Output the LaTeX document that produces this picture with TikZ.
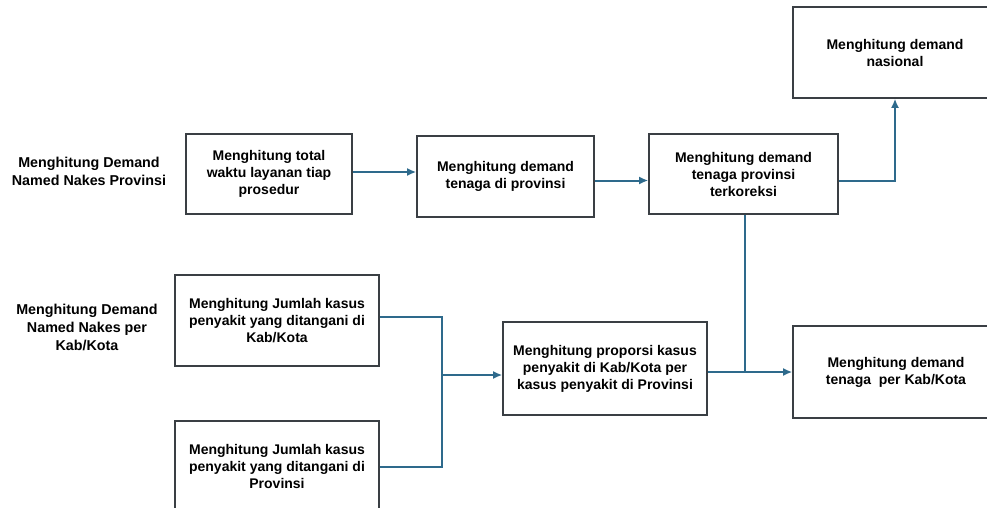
\documentclass[tikz,border=0pt]{standalone}
\usepackage{fontspec}
\setmainfont{Liberation Sans}
\usetikzlibrary{arrows.meta}
\definecolor{boxline}{HTML}{3A3F44}
\definecolor{conn}{HTML}{2E6A8C}
\begin{document}
\begin{tikzpicture}[x=1pt,y=-1pt,
  box/.style={draw=boxline,line width=1.6pt,fill=white,rectangle,align=center,
    inner sep=0pt,font=\fontsize{14}{17}\selectfont\bfseries},
  lbl/.style={align=center,inner sep=0pt,font=\fontsize{14.3}{18}\selectfont\bfseries},
  conline/.style={draw=conn,line width=2pt},
  arr/.style={conline,-{Latex[length=9pt,width=8pt]}}]
\useasboundingbox (0,0) rectangle (987,508);
\clip (0,0) rectangle (987,508);
\fill[white] (0,0) rectangle (987,508);
\node[box,minimum width=166pt,minimum height=80pt] (A) at (269,174) {Menghitung total\\waktu layanan tiap\\prosedur};
\node[box,minimum width=177pt,minimum height=81pt] (B) at (505.5,176.5) {Menghitung demand\\tenaga di provinsi};
\node[box,minimum width=189pt,minimum height=80pt] (C) at (743.5,174) {Menghitung demand\\tenaga provinsi\\terkoreksi};
\node[box,minimum width=204pt,minimum height=91pt] (D) at (895,52.5) {Menghitung demand\\nasional};
\node[box,minimum width=204pt,minimum height=91pt] (E) at (277,320.5) {Menghitung Jumlah kasus\\penyakit yang ditangani di\\Kab/Kota};
\node[box,minimum width=204pt,minimum height=91pt] (F) at (277,466.5) {Menghitung Jumlah kasus\\penyakit yang ditangani di\\Provinsi};
\node[box,minimum width=204pt,minimum height=93pt] (G) at (605,368.5) {Menghitung proporsi kasus\\penyakit di Kab/Kota per\\kasus penyakit di Provinsi};
\node[box,minimum width=206pt,minimum height=92pt] (H) at (896,372) {Menghitung demand\\tenaga\ \ per Kab/Kota};
\node[lbl] (L1) at (89,171) {Menghitung Demand\\Named Nakes Provinsi};
\node[lbl] (L2) at (87,327) {Menghitung Demand\\Named Nakes per\\Kab/Kota};
\coordinate (J) at (442,375);
\draw[arr] ([yshift=2pt]A.east) -- ([yshift=2pt]A.east -| B.west);
\draw[arr] ([yshift=-4pt]B.east) -- ([yshift=-4pt]B.east -| C.west);
\draw[arr] ([yshift=-7pt]C.east) -| (D.south);
\draw[conline] ([yshift=3.5pt]E.east) -| (J);
\draw[conline] ([yshift=-0.5pt]F.east) -| (J);
\draw[arr] (J) -- (J -| G.west);
\draw[arr] ([yshift=-3.5pt]G.east) -- ([yshift=-3.5pt]G.east -| H.west);
\draw[conline] ([xshift=1.5pt]C.south) -- ([xshift=1.5pt,yshift=-3.5pt]C.south |- G.east);
\end{tikzpicture}
\end{document}
